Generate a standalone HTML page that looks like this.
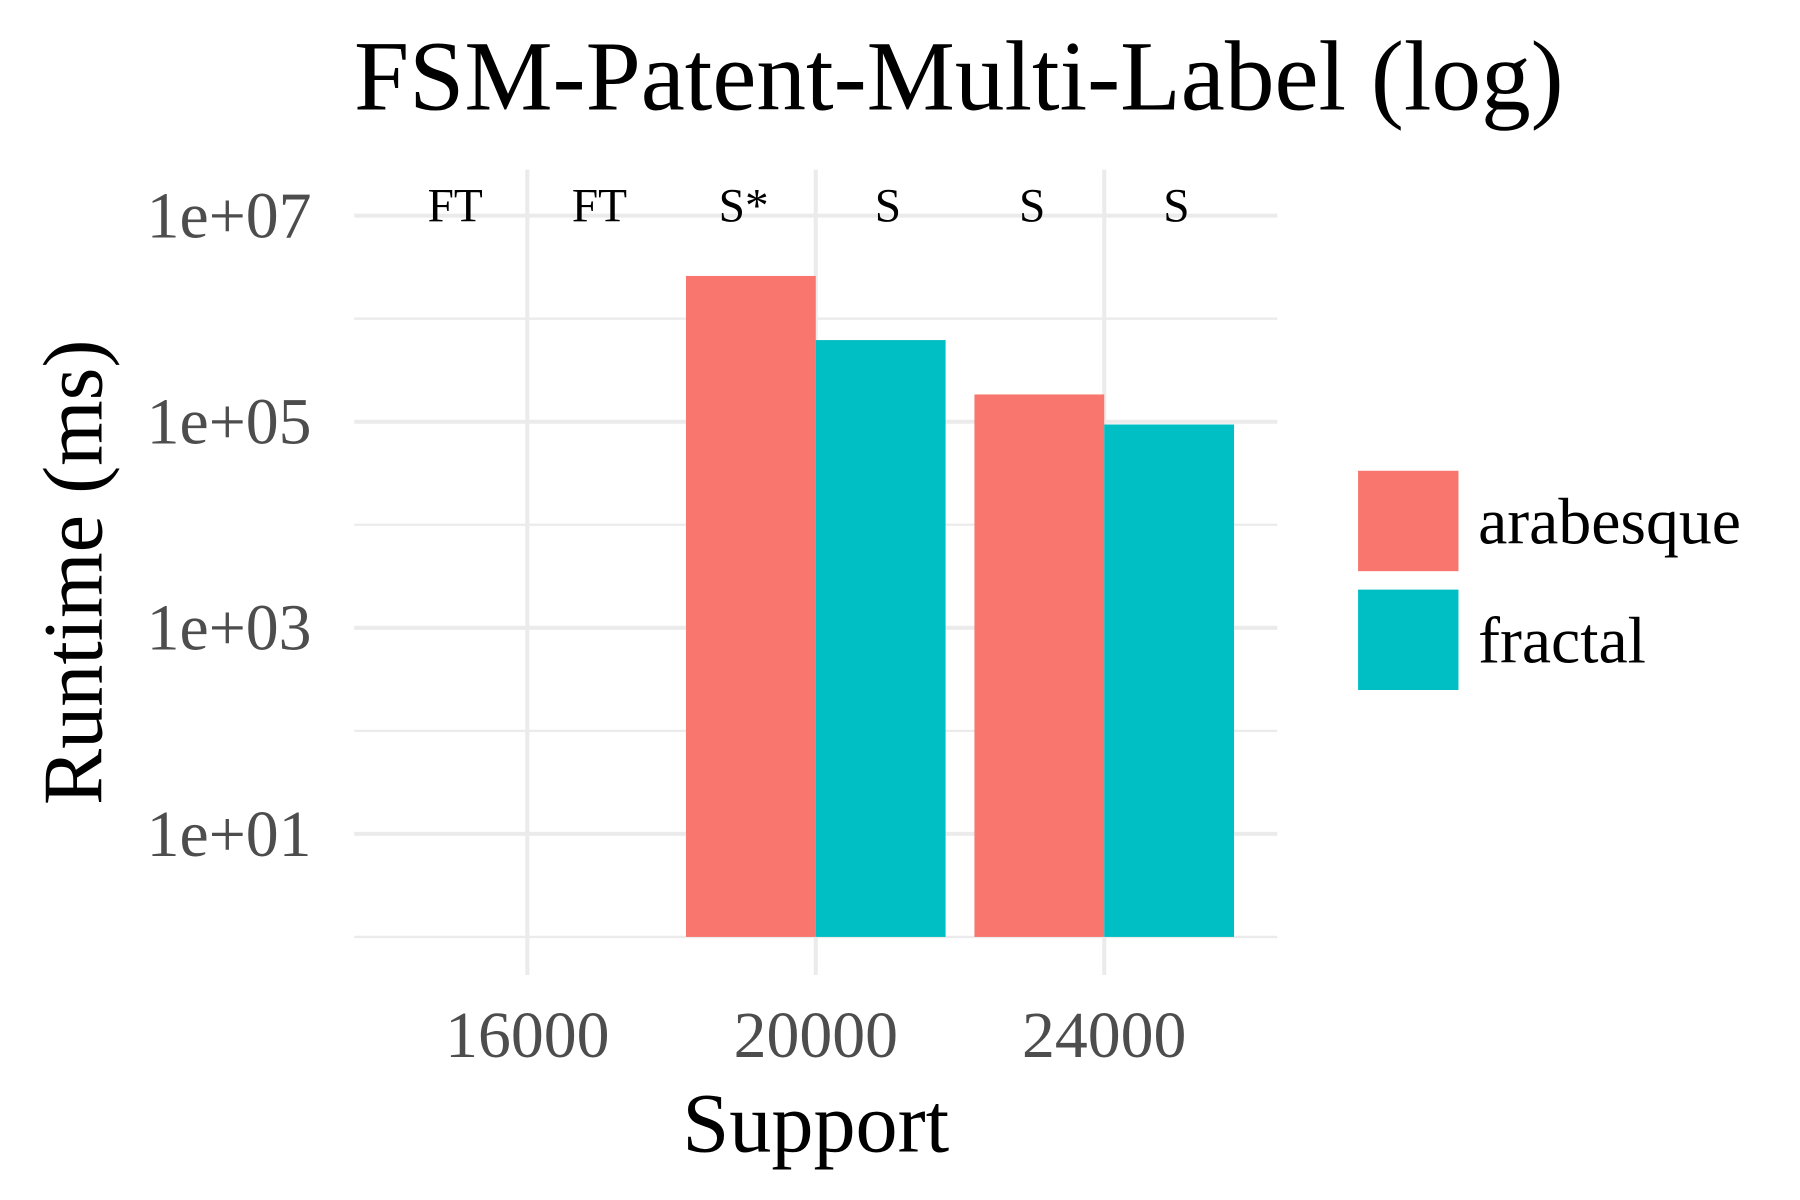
<!DOCTYPE html>
<html><head><meta charset="utf-8"><style>
html,body{margin:0;padding:0;background:#fff;}
svg{display:block;font-family:"Liberation Serif",serif;}
</style></head><body>
<svg id="chart" width="1800" height="1200" viewBox="0 0 1560 1040" xmlns="http://www.w3.org/2000/svg">
<text x="831" y="95" font-size="86" text-anchor="middle" fill="#000">FSM-Patent-Multi-Label (log)</text>
<g id="grid"></g>
<g id="bars"></g>
<g id="labels"></g>
<g id="axes"></g>
<text x="707" y="998" font-size="73" text-anchor="middle" fill="#000">Support</text>
<text transform="translate(88,496) rotate(-90)" font-size="73" text-anchor="middle" fill="#000">Runtime (ms)</text>
<g>
<rect x="1177" y="408" width="87" height="87" fill="#F8766D"/>
<text x="1281" y="471" font-size="57" fill="#000">arabesque</text>
<rect x="1177" y="511" width="87" height="87" fill="#00BFC4"/>
<text x="1281" y="574" font-size="57" fill="#000">fractal</text>
</g>
</svg>
<script>
const categories = [16000, 20000, 24000];
const arabesque = [null, 2600000, 184000];
const fractal = [null, 620000, 94000];
const statusLabels = [["FT","FT"],["S*","S"],["S","S"]];
const yTicks = [1e1, 1e3, 1e5, 1e7];
const yTickLabels = ["1e+01","1e+03","1e+05","1e+07"];
const xTickLabels = ["16000","20000","24000"];

const NS = "http://www.w3.org/2000/svg";
const px0 = 307, px1 = 1107;
const x = v => 457 + (v - 16000) / 4000 * 250;
const y = v => 812 - Math.log10(v) * 89.3;
const band = 250;
const barW = band * 0.45;
function mk(tag, attrs, parent) {
  const e = document.createElementNS(NS, tag);
  for (const k in attrs) e.setAttribute(k, attrs[k]);
  parent.appendChild(e);
  return e;
}
const grid = document.getElementById('grid');
for (let d = 0; d <= 7; d++) {
  const gy = y(Math.pow(10, d));
  const major = d % 2 === 1;
  const ln = mk('line', {x1: px0, x2: px1, y1: gy, y2: gy, stroke: '#EBEBEB', 'stroke-width': major ? 3.5 : 2}, grid);
  
  
}
categories.forEach(c => {
  const ln = mk('line', {x1: x(c), x2: x(c), y1: 147, y2: 845, stroke: '#EBEBEB', 'stroke-width': 3.5}, grid);
  
  
});
const bars = document.getElementById('bars');
categories.forEach((c, i) => {
  if (arabesque[i] != null) {
    const r = mk('rect', {x: x(c) - barW, y: y(arabesque[i]), width: barW, height: y(1) - y(arabesque[i]), fill: '#F8766D'}, bars);
    
    
  }
  if (fractal[i] != null) {
    const r = mk('rect', {x: x(c), y: y(fractal[i]), width: barW, height: y(1) - y(fractal[i]), fill: '#00BFC4'}, bars);
    
    
  }
});
const labels = document.getElementById('labels');
categories.forEach((c, i) => {
  [-1, 1].forEach((s, j) => {
    const t = mk('text', {x: x(c) + s * 62.5, y: 192, 'font-size': 41, 'text-anchor': 'middle', fill: '#000'}, labels);
    t.textContent = statusLabels[i][j];
    
    
  });
});
const axes = document.getElementById('axes');
yTicks.forEach((v, i) => {
  const t = mk('text', {x: 270, y: y(v) + 19, 'font-size': 57, 'text-anchor': 'end', fill: '#4D4D4D'}, axes);
  t.textContent = yTickLabels[i];
  
  
});
categories.forEach((c, i) => {
  const t = mk('text', {x: x(c), y: 916, 'font-size': 57, 'text-anchor': 'middle', fill: '#4D4D4D'}, axes);
  t.textContent = xTickLabels[i];
  
  
});
</script>
</body></html>
